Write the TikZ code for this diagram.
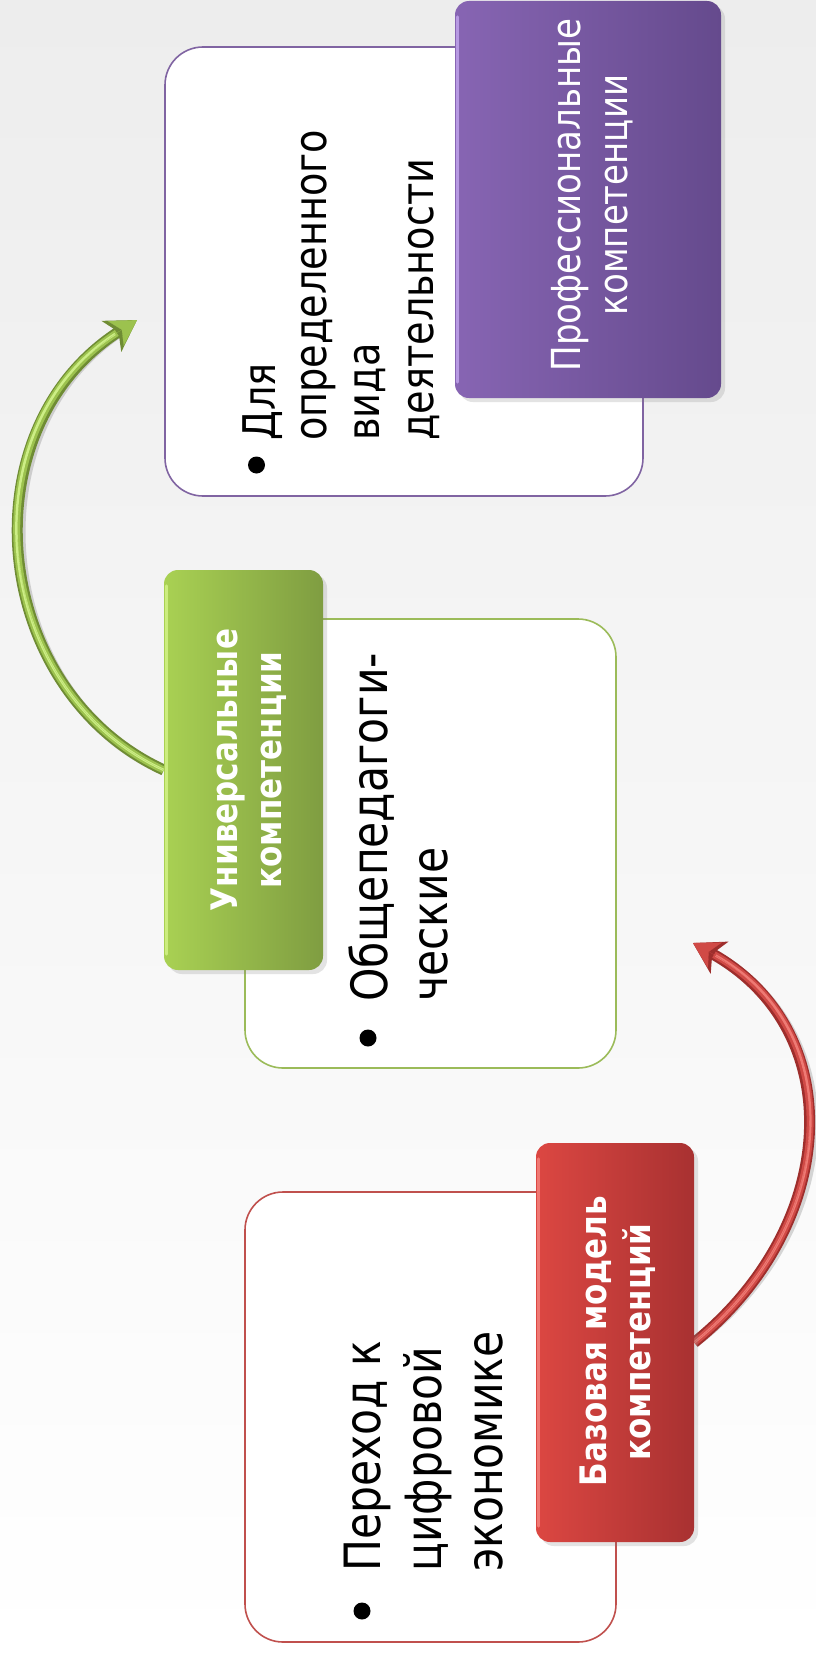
\documentclass[tikz,border=0pt]{standalone}
\usepackage{fontspec}
\setmainfont{DejaVu Sans}[FakeStretch=0.85]
\usetikzlibrary{arrows.meta,shadows,calc}
\pgfdeclarelayer{bgl}
\pgfdeclarelayer{arl}
\pgfsetlayers{bgl,arl,main}
\definecolor{purpEdge}{HTML}{8064A2}
\definecolor{grnEdge}{HTML}{9BBB59}
\definecolor{redEdge}{HTML}{C0504D}
\definecolor{purpL}{HTML}{8765B3}
\definecolor{purpR}{HTML}{654A8D}
\definecolor{grnL}{HTML}{A9D153}
\definecolor{grnR}{HTML}{7F9D41}
\definecolor{redL}{HTML}{DC4742}
\definecolor{redR}{HTML}{A83131}
\definecolor{purpHi}{HTML}{C3A6EE}
\definecolor{grnHiL}{HTML}{D6F58A}
\definecolor{redHiL}{HTML}{F58580}
\definecolor{redDark}{HTML}{9E2E2C}
\definecolor{redMid}{HTML}{D04A46}
\definecolor{redHi}{HTML}{EE7A74}
\definecolor{grnDark}{HTML}{6F8C34}
\definecolor{grnMid}{HTML}{9CC24E}
\definecolor{grnHi}{HTML}{CDEE86}
\definecolor{bgtop}{HTML}{EDEDED}
\tikzset{
  whitebox/.style={draw=#1, line width=1.6pt, fill=white, rounded corners=38pt, inner sep=0pt},
  labelbox/.style 2 args={rounded corners=14pt, left color=#1, right color=#2,
    drop shadow={shadow xshift=4pt, shadow yshift=-4pt, opacity=0.22}, inner sep=0pt},
  bevel/.style={draw=#1, line width=3pt, opacity=0.8, line cap=round},
  mtext/.style={rotate=90, anchor=base west, inner sep=0pt, text=black, font=\fontsize{50}{60}\selectfont},
  ptext/.style={rotate=90, anchor=base west, inner sep=0pt, text=black, font=\fontsize{45}{54}\selectfont},
  ltext/.style={rotate=90, anchor=base, inner sep=0pt, text=white, font=\fontsize{36.5}{44}\selectfont\bfseries},
  lptext/.style={rotate=90, anchor=base, inner sep=0pt, text=white, font=\fontsize{40}{47}\selectfont},
  bul/.style={circle, fill=black, minimum size=17pt, inner sep=0pt},
  tubeshadow/.style={draw=black, opacity=0.15, line width=11pt, shorten >=22pt},
  bigtip/.style={-{Stealth[length=30pt,width=36pt,inset=8pt]}},
  smalltip/.style={-{Stealth[length=25pt,width=29pt,inset=7pt]}},
}
\begin{document}
\begin{tikzpicture}[x=1pt,y=-1pt]
\begin{pgfonlayer}{bgl}
\fill[top color=bgtop, bottom color=white] (0,0) rectangle (816,1654);
\end{pgfonlayer}
\useasboundingbox (0,0) rectangle (816,1654);

% white boxes
\node[whitebox=purpEdge, minimum width=478pt, minimum height=449pt] (pw) at (404,271.5) {};
\node[whitebox=grnEdge, minimum width=371pt, minimum height=449pt] (gw) at (430.5,843.5) {};
\node[whitebox=redEdge, minimum width=371pt, minimum height=450pt] (rw) at (430.5,1417) {};

% box texts
\node[bul] (pb) at (256.5,465) {};
\node[ptext] (p1) at (275,441) {Для};
\node[ptext] (p2) at (326,441) {определенного};
\node[ptext] (p3) at (379,441) {вида};
\node[ptext] (p4) at (433,441) {деятельности};

\node[bul] (gb) at (368,1038) {};
\node[mtext] (g1) at (387,1002) {Общепедагоги-};
\node[mtext] (g2) at (447,1002) {ческие};

\node[bul] (rb) at (362,1611) {};
\node[mtext] (r1) at (380,1572) {Переход к};
\node[mtext] (r2) at (441,1572) {цифровой};
\node[mtext] (r3) at (502,1572) {экономике};

% label boxes
\node[labelbox={purpL}{purpR}, minimum width=266pt, minimum height=397pt] (pl) at (588,199.5) {};
\node[labelbox={grnL}{grnR}, minimum width=159pt, minimum height=400pt] (gl) at (243.5,770) {};
\node[labelbox={redL}{redR}, minimum width=158pt, minimum height=399pt] (rl) at (615,1342.5) {};
\draw[bevel=purpHi] ($(pl.north west)+(2.5,16)$) -- ($(pl.south west)+(2.5,-16)$);
\draw[bevel=grnHiL] ($(gl.north west)+(2.5,16)$) -- ($(gl.south west)+(2.5,-16)$);
\draw[bevel=redHiL] ($(rl.north west)+(2.5,16)$) -- ($(rl.south west)+(2.5,-16)$);

\node[lptext] (pl1) at (580,195) {Профессиональные};
\node[lptext] (pl2) at (627,195) {компетенции};
\node[ltext] (gl1) at (237,770) {Универсальные};
\node[ltext] (gl2) at (281,770) {компетенции};
\node[ltext] (rl1) at (606,1341) {Базовая модель};
\node[ltext] (rl2) at (650,1342) {компетенций};

% arrows
\coordinate (rtip) at (693,943);
\coordinate (gtip) at (137,320);
\begin{pgfonlayer}{arl}
\draw[tubeshadow, xshift=4pt, yshift=-4pt] (rl.east) .. controls (840,1225) and (850,1030) .. (rtip);
\draw[line width=11pt, draw=redDark, bigtip] (rl.east) .. controls (840,1225) and (850,1030) .. (rtip);
\draw[line width=7pt, draw=redMid, shorten >=24pt] (rl.east) .. controls (840,1225) and (850,1030) .. (rtip);
\draw[line width=2.5pt, draw=redHi, shorten >=26pt] (rl.east) .. controls (840,1225) and (850,1030) .. (rtip);
\draw[line width=0.1pt, draw=redMid, smalltip] (rl.east) .. controls (840,1225) and (850,1030) .. (rtip);

\draw[tubeshadow, xshift=4pt, yshift=-4pt] (gl.west) .. controls (-10,690) and (-35,430) .. (gtip);
\draw[line width=11pt, draw=grnDark, bigtip] (gl.west) .. controls (-10,690) and (-35,430) .. (gtip);
\draw[line width=7pt, draw=grnMid, shorten >=24pt] (gl.west) .. controls (-10,690) and (-35,430) .. (gtip);
\draw[line width=2.5pt, draw=grnHi, shorten >=26pt] (gl.west) .. controls (-10,690) and (-35,430) .. (gtip);
\draw[line width=0.1pt, draw=grnMid, smalltip] (gl.west) .. controls (-10,690) and (-35,430) .. (gtip);
\end{pgfonlayer}
\end{tikzpicture}
\end{document}
